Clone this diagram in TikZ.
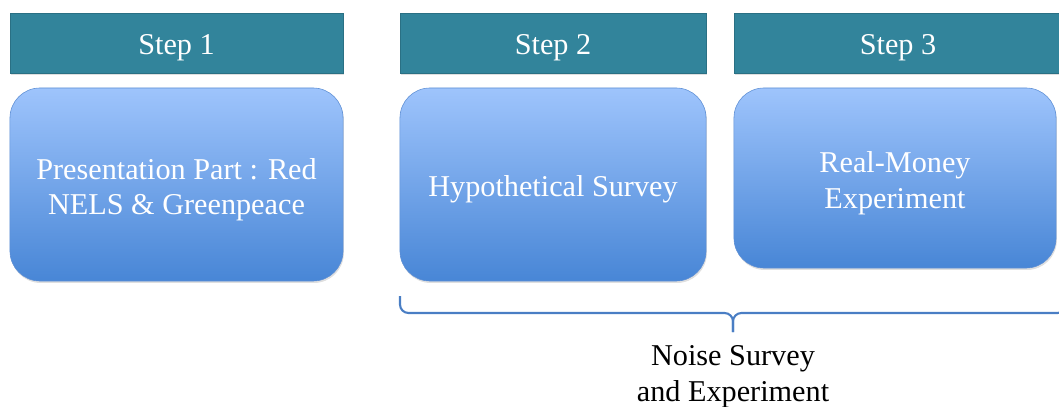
\documentclass[tikz,border=0pt]{standalone}
\usepackage{fontspec}
\setmainfont{Liberation Serif}
\usetikzlibrary{positioning,shadows}
\definecolor{stepteal}{RGB}{50,132,155}
\definecolor{boxtop}{RGB}{158,196,252}
\definecolor{boxmid}{RGB}{128,174,238}
\definecolor{boxbot}{RGB}{72,134,214}
\definecolor{boxedge}{RGB}{92,142,212}
\definecolor{bracecol}{RGB}{74,126,196}

\begin{document}
\begin{tikzpicture}[x=0.025cm, y=-0.025cm,
  bigtext/.style={font=\fontsize{21.5}{25.5}\selectfont},
  steplabel/.style={fill=stepteal, draw=stepteal!85!black, line width=0.3pt,
    minimum height=1.5cm, inner sep=0pt,
    drop shadow={opacity=0.25, shadow xshift=0.6pt, shadow yshift=-1.2pt}},
  stagebox/.style={rounded corners=0.75cm, top color=boxtop, middle color=boxmid,
    bottom color=boxbot, draw=boxedge, line width=0.4pt, inner sep=0pt,
    drop shadow={opacity=0.25, shadow xshift=0.6pt, shadow yshift=-1.4pt}},
  boxtext/.style={bigtext, text=white, align=center, inner sep=0pt},
  braceline/.style={bracecol, line width=1.5pt, rounded corners=6pt}]
  \useasboundingbox (0,0) rectangle (1059,407);
  % step headers
  \node[steplabel, minimum width=8.325cm,
    label={[boxtext, yshift=-0.12cm]center:Step 1}] (step1) at (176.5,43) {};
  \node[steplabel, minimum width=7.65cm,
    label={[boxtext, yshift=-0.12cm]center:Step 2}] (step2) at (553,43) {};
  \node[steplabel, minimum width=8.2cm,
    label={[boxtext, yshift=-0.12cm]center:Step 3}] (step3) at (898,43) {};
  % stages
  \node[stagebox, minimum width=8.325cm, minimum height=4.825cm,
    label={[boxtext, yshift=-0.13cm]center:{Presentation Part : Red\\NELS \& Greenpeace}}]
    (present) at (176.5,184.5) {};
  \node[stagebox, minimum width=7.65cm, minimum height=4.825cm,
    label={[boxtext, yshift=-0.12cm]center:Hypothetical Survey}]
    (survey) at (553,184.5) {};
  \node[stagebox, minimum width=8.05cm, minimum height=4.5cm,
    label={[boxtext, yshift=-0.12cm]center:{Real-Money\\Experiment}}]
    (realmoney) at (895,178) {};
  % brace under steps 2 and 3
  \coordinate (braceL) at (400,296);
  \coordinate (braceR) at (1066,296);
  \coordinate (braceMid) at (733,313);
  \coordinate (braceTip) at (733,332);
  \draw[braceline] (braceL) |- (braceMid) -- (braceTip);
  \draw[braceline] (braceR) |- (braceMid) -- (braceTip);
  \node[bigtext, align=center] (noise) at (733,377)
    {Noise Survey\\and Experiment};
\end{tikzpicture}
\end{document}
